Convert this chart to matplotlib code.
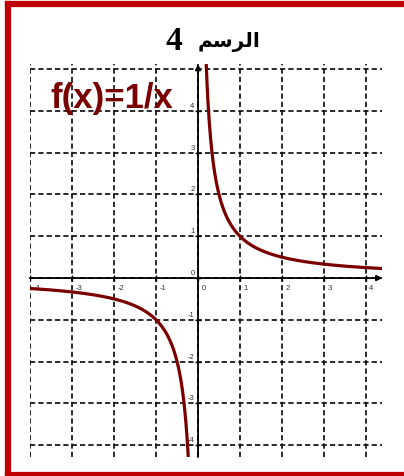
import numpy as np
import matplotlib
matplotlib.use("Agg")
import matplotlib.pyplot as plt

# ---- data ----
title_word = "الرسم"
title_num = "4"
func_label = "f(x)=1/x"
x_ticks = [-4, -3, -2, -1, 0, 1, 2, 3, 4]
y_ticks = [-4, -3, -2, -1, 0, 1, 2, 3, 4]
x_grid = [-4, -3, -2, -1, 0, 1, 2, 3, 4]
y_grid = [-4, -3, -2, -1, 0, 1, 2, 3, 4, 5]
xlim = (-4.02, 4.4)
ylim = (-4.28, 5.12)

# simple Arabic shaping (presentation forms) for the title word
forms = {  # isolated, final, initial, medial
    'ا': ('\uFE8D', '\uFE8E', None, None),
    'ل': ('\uFEDD', '\uFEDE', '\uFEDF', '\uFEE0'),
    'ر': ('\uFEAD', '\uFEAE', None, None),
    'س': ('\uFEB1', '\uFEB2', '\uFEB3', '\uFEB4'),
    'م': ('\uFEE1', '\uFEE2', '\uFEE3', '\uFEE4'),
}
def shape(word):
    out = []
    n = len(word)
    for i, ch in enumerate(word):
        f = forms[ch]
        prev_joins = i > 0 and forms[word[i-1]][2] is not None
        next_exists = i < n - 1 and f[2] is not None
        if prev_joins and next_exists:
            g = f[3]
        elif prev_joins:
            g = f[1]
        elif next_exists:
            g = f[2]
        else:
            g = f[0]
        out.append(g)
    return ''.join(reversed(out))

W, H = 404, 477
fig = plt.figure(figsize=(W / 100, H / 100), dpi=100)
fig.patch.set_facecolor('white')

# red frame
red = '#C00000'
fig.add_artist(plt.Line2D([8 / W, 8 / W], [0, 1 - 5 / H], color=red, lw=4.5,
                          transform=fig.transFigure, solid_capstyle='projecting'))
fig.add_artist(plt.Line2D([8 / W, 1.02], [1 - 5.3 / H, 1 - 5.3 / H], color=red, lw=4.5,
                          transform=fig.transFigure))
fig.add_artist(plt.Line2D([8 / W, 1.02], [1 - 476 / H, 1 - 476 / H], color=red, lw=4.5,
                          transform=fig.transFigure))

# axes placed in pixel coordinates
left_px, right_px = 29.6, 382.4
top_px, bot_px = 65.0, 458.0
ax = fig.add_axes([left_px / W, 1 - bot_px / H, (right_px - left_px) / W, (bot_px - top_px) / H])
ax.set_xlim(*xlim)
ax.set_ylim(*ylim)
ax.axis('off')

# dashed grid
grid_kw = dict(color='#111111', lw=1.25, ls=(0, (3.0, 1.8)), zorder=1)
for gx in x_grid:
    ax.plot([gx, gx], ylim, **grid_kw)
for gy in y_grid:
    ax.plot(xlim, [gy, gy], **grid_kw)

# axes with arrows
ax.annotate('', xy=(xlim[1], 0), xytext=(xlim[0], 0),
            arrowprops=dict(arrowstyle='-|>', color='black', lw=1.3, mutation_scale=8,
                            shrinkA=0, shrinkB=0), zorder=3)
ax.annotate('', xy=(0, ylim[1]), xytext=(0, ylim[0]),
            arrowprops=dict(arrowstyle='-|>', color='black', lw=1.3, mutation_scale=8,
                            shrinkA=0, shrinkB=0), zorder=3)
ax.plot(x_ticks, [0] * len(x_ticks), ls='none', marker='|', ms=5, mew=1.0, color='black', zorder=3)
ax.plot([0] * len(y_ticks), y_ticks, ls='none', marker='_', ms=5, mew=1.0, color='black', zorder=3)

# tick labels
for t in x_ticks:
    ax.annotate(str(t), (t, 0), xytext=(2.5, -7), textcoords='offset points',
                ha='left', va='center', fontsize=5.5, color='#333333',
                family='Liberation Sans', zorder=4)
for t in y_ticks:
    ax.annotate(str(t), (0, t), xytext=(-2.5, 4), textcoords='offset points',
                ha='right', va='center', fontsize=5.5, color='#333333',
                family='Liberation Sans', zorder=4)

# the function 1/x
curve_color = '#7A0000'
xn = np.linspace(xlim[0], -1 / abs(ylim[0]), 400)
xp = np.linspace(1 / ylim[1], xlim[1], 400)
ax.plot(xn, 1 / xn, color=curve_color, lw=2.3, zorder=5, solid_capstyle='butt')
ax.plot(xp, 1 / xp, color=curve_color, lw=2.3, zorder=5, solid_capstyle='butt')

# function label
fig.text(50 / W, 1 - 108 / H, func_label, color=curve_color, fontsize=25,
         fontweight='bold', family='Liberation Sans', ha='left', va='baseline')

# title
fig.text(182 / W, 1 - 50 / H, title_num, fontsize=24, fontweight='bold',
         family='Liberation Serif', ha='right', va='baseline')
fig.text(198 / W, 1 - 47 / H, shape(title_word), fontsize=14.5, fontweight='bold',
         family=['DejaVu Sans'], ha='left', va='baseline')

fig.savefig('out.png', dpi=100, facecolor='white')
